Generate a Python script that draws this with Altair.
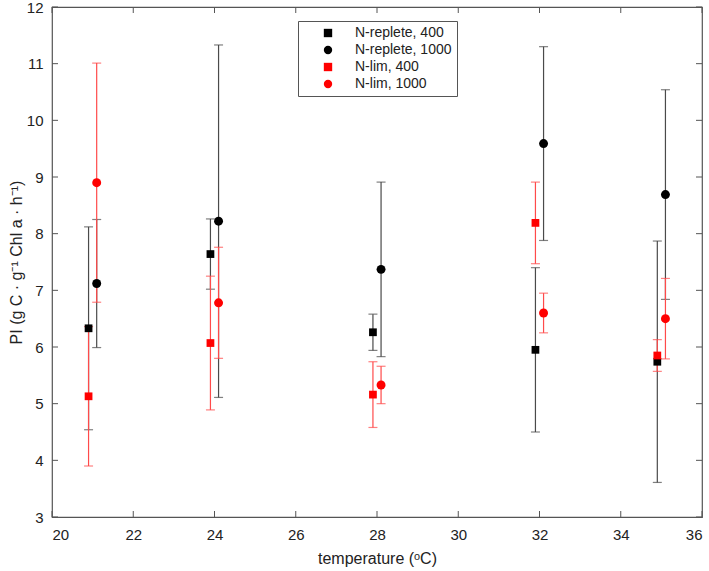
import altair as alt
import pandas as pd

temperatures = [21, 24, 28, 32, 35]
series_names = ["N-replete, 400", "N-replete, 1000", "N-lim, 400", "N-lim, 1000"]
series_offsets = [-0.1, 0.1, -0.1, 0.1]

replete_400_mean = [6.33, 7.64, 6.26, 5.95, 5.74]
replete_400_err = [1.79, 0.62, 0.32, 1.45, 2.13]
replete_1000_mean = [7.12, 8.22, 7.37, 9.59, 8.69]
replete_1000_err = [1.13, 3.11, 1.54, 1.71, 1.85]
lim_400_mean = [5.13, 6.07, 5.16, 8.19, 5.85]
lim_400_err = [1.23, 1.18, 0.58, 0.72, 0.28]
lim_1000_mean = [8.90, 6.78, 5.33, 6.60, 6.50]
lim_1000_err = [2.11, 0.98, 0.33, 0.35, 0.71]

x_ticks = [20, 22, 24, 26, 28, 30, 32, 34, 36]
y_ticks = [3, 4, 5, 6, 7, 8, 9, 10, 11, 12]

means = [replete_400_mean, replete_1000_mean, lim_400_mean, lim_1000_mean]
errs = [replete_400_err, replete_1000_err, lim_400_err, lim_1000_err]

rows = []
for s, name in enumerate(series_names):
    for i, t in enumerate(temperatures):
        m = means[s][i]
        e = errs[s][i]
        rows.append({"series": name, "order": s, "x": t + series_offsets[s],
                     "y": m, "lo": m - e, "hi": m + e})
df = pd.DataFrame(rows)

FONT = "Liberation Sans"
W, H = 650, 510

xscale = alt.Scale(domain=[20, 36], nice=False, zero=False)
yscale = alt.Scale(domain=[3, 12], nice=False, zero=False)

color_scale = alt.Scale(domain=series_names, range=["#000000", "#000000", "#ff0000", "#ff0000"])
shape_scale = alt.Scale(domain=series_names, range=["square", "circle", "square", "circle"])

base = alt.Chart(df)

x_axis = alt.Axis(values=x_ticks, ticks=False, grid=False, domain=False, format="d",
                  labelFontSize=15, labelFont=FONT, labelColor="#222",
                  labelPadding=10, title="temperature (ᵒC)", titleFont=FONT,
                  titleFontSize=16, titleFontWeight="normal", titleColor="#222",
                  titlePadding=8)
y_axis = alt.Axis(values=y_ticks, ticks=False, grid=False, domain=False, format="d",
                  labelFontSize=15, labelFont=FONT, labelColor="#222",
                  labelPadding=9, title="PI (g C · g⁻¹ Chl a · h⁻¹)", titleFont=FONT,
                  titleFontSize=16, titleFontWeight="normal", titleColor="#222",
                  titlePadding=2)

layers = []
for s, name in enumerate(series_names):
    sub = base.transform_filter(alt.datum.series == name)
    bc = "#4a4a4a" if s < 2 else "#ff4a4a"
    rule = sub.mark_rule(color=bc, strokeWidth=1.2).encode(
        x=alt.X("x:Q", scale=xscale, axis=x_axis),
        y=alt.Y("lo:Q", scale=yscale, axis=y_axis),
        y2="hi:Q",
    )
    cap_lo = sub.mark_tick(color=bc, orient="horizontal", size=9, thickness=1.2).encode(
        x=alt.X("x:Q", scale=xscale), y=alt.Y("lo:Q", scale=yscale))
    cap_hi = sub.mark_tick(color=bc, orient="horizontal", size=9, thickness=1.2).encode(
        x=alt.X("x:Q", scale=xscale), y=alt.Y("hi:Q", scale=yscale))
    layers += [rule, cap_lo, cap_hi]

for s, name in enumerate(series_names):
    sub = base.transform_filter(alt.datum.series == name)
    pts = sub.mark_point(filled=True, opacity=1, strokeWidth=0).encode(
        x=alt.X("x:Q", scale=xscale),
        y=alt.Y("y:Q", scale=yscale),
        color=alt.Color("series:N", scale=color_scale, title=None,
                        legend=alt.Legend(orient="none", legendX=246, legendY=14,
                                          fillColor="white", strokeColor="#555",
                                          padding=5, labelFont=FONT, labelFontSize=14,
                                          labelColor="#222", symbolOffset=18,
                                          labelOffset=20, rowPadding=3,
                                          symbolSize=70, labelLimit=200)),
        shape=alt.Shape("series:N", scale=shape_scale, title=None),
        size=alt.value(60 if s % 2 == 0 else 80),
    )
    layers.append(pts)

tick_df = pd.DataFrame({"xt": x_ticks + [None] * (len(y_ticks) - len(x_ticks)), "yt": y_ticks})
tdf = alt.Chart(tick_df)
xt_bottom = tdf.transform_filter("isValid(datum.xt)").mark_rule(color="#555").encode(
    x=alt.X("xt:Q", scale=xscale), y=alt.value(H), y2=alt.value(H - 6))
xt_top = tdf.transform_filter("isValid(datum.xt)").mark_rule(color="#555").encode(
    x=alt.X("xt:Q", scale=xscale), y=alt.value(0), y2=alt.value(6))
yt_left = tdf.mark_rule(color="#555").encode(
    y=alt.Y("yt:Q", scale=yscale), x=alt.value(0), x2=alt.value(6))
yt_right = tdf.mark_rule(color="#555").encode(
    y=alt.Y("yt:Q", scale=yscale), x=alt.value(W), x2=alt.value(W - 6))

chart = alt.layer(xt_bottom, xt_top, yt_left, yt_right, *layers).properties(
    width=W, height=H,
    autosize=alt.AutoSizeParams(type="none"),
    padding={"left": 52, "top": 7, "right": 7, "bottom": 54},
    background="white",
).configure_view(stroke="#555", strokeWidth=1.2)

chart.save("out.html", embed_options={"renderer": "svg", "actions": False})
